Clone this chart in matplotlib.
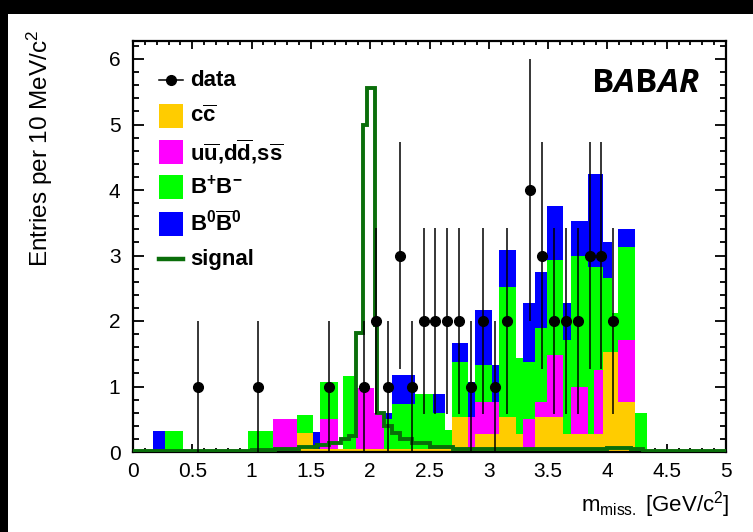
import matplotlib
matplotlib.use("Agg")
import matplotlib.pyplot as plt
from matplotlib.patches import Rectangle
from matplotlib.lines import Line2D
from matplotlib.offsetbox import TextArea, HPacker, AnnotationBbox
import numpy as np

plt.rcParams['font.family'] = ['Liberation Sans', 'DejaVu Sans']
plt.rcParams['mathtext.fontset'] = 'custom'
plt.rcParams['mathtext.rm'] = 'Liberation Sans'
plt.rcParams['mathtext.it'] = 'Liberation Sans:italic'
plt.rcParams['mathtext.bf'] = 'Liberation Sans:bold'

# ---- background stack (bin edges in GeV/c^2, entries per component) ----
mc_edges = [0.17, 0.27, 0.42, 0.97, 1.18, 1.38, 1.52, 1.577, 1.73, 1.77, 1.88,
            2.03, 2.12, 2.18, 2.38, 2.53, 2.63, 2.687, 2.827, 2.884, 3.03, 3.089,
            3.229, 3.286, 3.39, 3.488, 3.628, 3.69, 3.834, 3.89, 3.96, 4.036,
            4.092, 4.233, 4.336]
cc   = [0, 0, 0, 0, 0, 0.29, 0.04, 0.04, 0.04, 0.04, 0.04, 0.04, 0.04, 0.04,
        0.04, 0.04, 0.04, 0.54, 0, 0.28, 0.28, 0.54, 0.28, 0.05, 0.54, 0.54,
        0.28, 0.28, 0.28, 0.28, 1.53, 1.53, 0.77, 0]
uds  = [0, 0, 0, 0, 0.51, 0, 0, 0.47, 0, 0, 0.93, 0.55, 0, 0, 0, 0, 0, 0,
        0.54, 0.49, 0.49, 0, 0, 0.46, 0.23, 0.94, 0, 0.72, 0, 0.97, 0, 0,
        0.94, 0]
bpbm = [0, 0.32, 0, 0.32, 0, 0.27, 0, 0.56, 0, 1.12, 0, 0, 0.47, 0.70, 0.84,
        0.56, 0.30, 0.84, 0, 0.56, 0, 1.98, 1.15, 0.87, 1.12, 1.45, 1.43, 2.0,
        2.55, 1.58, 1.12, 0.59, 1.42, 0.6]
b0b0 = [0.32, 0, 0, 0, 0, 0, 0.27, 0, 0, 0, 0, 0, 0.08, 0.43, 0, 0.28, 0,
        0.28, 0.53, 0.84, 0.56, 0.56, 0, 0.89, 0.86, 0.82, 0.56, 0.53, 1.42,
        1.42, 0.55, 0, 0.28, 0]

# ---- signal shape ----
sig_edges = [0.0, 1.0, 1.2, 1.4, 1.55, 1.65, 1.75, 1.82, 1.88, 1.94, 1.97,
             2.04, 2.06, 2.12, 2.18, 2.25, 2.35, 2.5, 2.7, 3.0, 4.0, 4.2, 4.3, 5.0]
sig_vals = [0.02, 0.03, 0.05, 0.07, 0.1, 0.14, 0.2, 0.25, 1.82, 5.0, 5.56,
            1.94, 0.6, 0.39, 0.29, 0.2, 0.13, 0.08, 0.05, 0.04, 0.06, 0.05, 0.02]

# ---- data ----
data_x = [0.55, 1.05, 1.65, 1.95, 2.05, 2.15, 2.25, 2.35, 2.45, 2.55, 2.65,
          2.75, 2.85, 2.95, 3.05, 3.15, 3.35, 3.45, 3.55, 3.65, 3.75, 3.85,
          3.95, 4.05]
data_n = [1, 1, 1, 1, 2, 1, 3, 1, 2, 2, 2, 2, 1, 2, 1, 2, 4, 3, 2, 2, 2, 3, 3, 2]

x_ticks = [0, 0.5, 1, 1.5, 2, 2.5, 3, 3.5, 4, 4.5, 5]
x_tick_labels = ["0", "0.5", "1", "1.5", "2", "2.5", "3", "3.5", "4", "4.5", "5"]
y_ticks = [0, 1, 2, 3, 4, 5, 6]

COL_CC = '#ffcc00'
COL_UDS = '#ff00ff'
COL_BPBM = '#00ff00'
COL_B0B0 = '#0000ff'
COL_SIG = '#0a6e0a'

W, H = 753, 532
fig = plt.figure(figsize=(W / 100, H / 100), dpi=100)
fig.patch.set_facecolor('white')

L, R, B, T = 133, 726, 452, 41
ax = fig.add_axes([L / W, 1 - B / H, (R - L) / W, (B - T) / H])

edges = np.array(mc_edges)
lefts = edges[:-1]
widths = np.diff(edges)
bottom = np.zeros(len(lefts))
for vals, col in [(cc, COL_CC), (uds, COL_UDS), (bpbm, COL_BPBM), (b0b0, COL_B0B0)]:
    v = np.array(vals, dtype=float)
    ax.bar(lefts, v, width=widths, bottom=bottom, align='edge', color=col,
           linewidth=0, zorder=2)
    bottom += v

ax.stairs(sig_vals, sig_edges, color=COL_SIG, linewidth=2.8, zorder=3,
          baseline=None)

dn = np.array(data_n, dtype=float)
ax.errorbar(data_x, dn, yerr=np.sqrt(dn), fmt='o', color='black', ms=7,
            elinewidth=1.1, capsize=0, zorder=4)

ax.set_xlim(0, 5)
ax.set_ylim(0, (B - T) / 65.5)
ax.set_xticks(x_ticks)
ax.set_xticklabels(x_tick_labels)
ax.set_yticks(y_ticks)
ax.set_xticks(np.arange(0, 5.01, 0.1), minor=True)
ax.set_yticks(np.arange(0, 6.21, 0.2), minor=True)
for s in ax.spines.values():
    s.set_linewidth(1.6)
ax.tick_params(which='both', direction='in', top=True, right=True, width=1.3,
               labelsize=15)
ax.tick_params(axis='x', which='major', length=6, pad=7)
ax.tick_params(axis='x', which='minor', length=3)
ax.tick_params(axis='y', which='major', length=8, pad=9)
ax.tick_params(axis='y', which='minor', length=4)

# axis titles
fig.text(40 / W, 1 - 30 / H, "Entries per 10 MeV/c$^{2}$", rotation=90,
         ha='center', va='top', fontsize=17.5)
fig.text(730 / W, 1 - 505 / H, r"m$_{\mathrm{miss.}}$ [GeV/c$^{2}$]",
         ha='right', va='center', fontsize=16)

# legend
def fx(px):
    return px / W

def fy(py):
    return 1 - py / H

rows = [80, 116, 152, 187, 224, 259]
labels = ["data", r"c$\overline{\mathbf{c}}$",
          r"u$\overline{\mathbf{u}}$,d$\overline{\mathbf{d}}$,s$\overline{\mathbf{s}}$",
          r"B$^{\mathbf{+}}$B$^{\mathbf{-}}$",
          r"B$^{\mathbf{0}}\overline{\mathbf{B}}^{\mathbf{0}}$", "signal"]
for py, lab in zip(rows, labels):
    fig.text(fx(190), fy(py), lab, ha='left', va='center', fontsize=16,
             fontweight='bold')
fig.lines.append(Line2D([fx(159), fx(183)], [fy(rows[0])] * 2, color='black',
                        linewidth=1.1, transform=fig.transFigure))
fig.lines.append(Line2D([fx(171)], [fy(rows[0])], color='black', marker='o',
                        ms=7, transform=fig.transFigure))
for py, col in zip(rows[1:5], [COL_CC, COL_UDS, COL_BPBM, COL_B0B0]):
    fig.patches.append(Rectangle((fx(159), fy(py + 12)), 24 / W, 24 / H,
                                 facecolor=col, edgecolor='none',
                                 transform=fig.transFigure))
fig.lines.append(Line2D([fx(159), fx(183)], [fy(rows[5])] * 2, color=COL_SIG,
                        linewidth=3.2, transform=fig.transFigure))

# experiment logo
parts = [("B", 'normal'), ("A", 'italic'), ("B", 'normal'), ("AR", 'italic')]
boxes = [TextArea(t, textprops=dict(fontsize=24, fontweight='bold', style=st,
                                    family=['Open Sans', 'DejaVu Sans']))
         for t, st in parts]
pack = HPacker(children=boxes, pad=0, sep=0, align='baseline')
ab = AnnotationBbox(pack, (592, H - 84), xycoords='figure pixels',
                    box_alignment=(0, 0.5), frameon=False)
fig.add_artist(ab)

# dark border strips along the top and left edge
fig.patches.append(Rectangle((0, 1 - 14 / H), 1, 14 / H, facecolor='black',
                             edgecolor='none', transform=fig.transFigure))
fig.patches.append(Rectangle((0, 0), 8 / W, 1, facecolor='black',
                             edgecolor='none', transform=fig.transFigure))

fig.savefig("out.png", dpi=100)
